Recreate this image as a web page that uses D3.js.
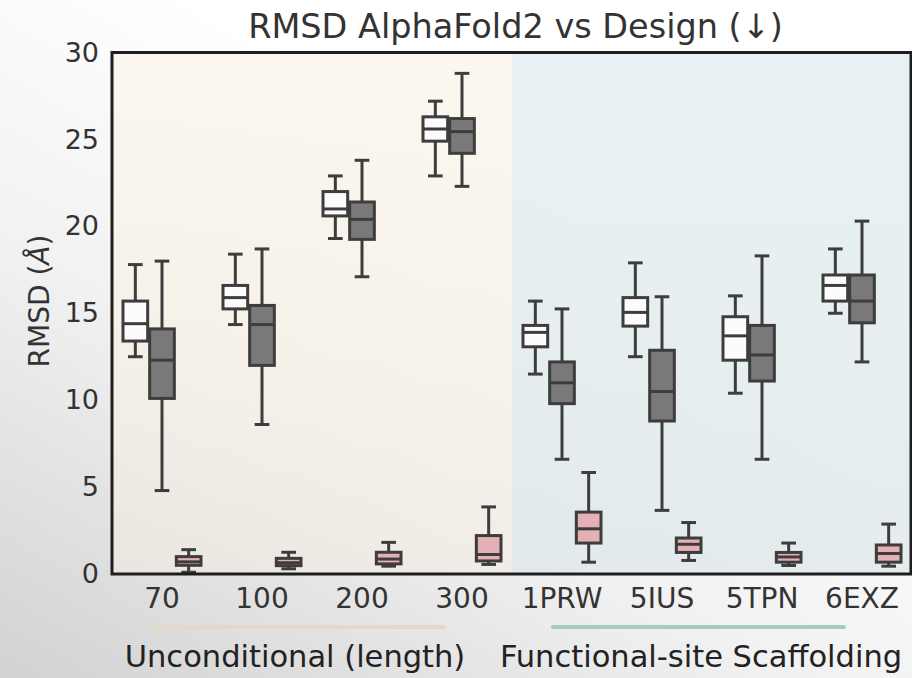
<!DOCTYPE html>
<html><head><meta charset="utf-8">
<script src="https://cdn.jsdelivr.net/npm/d3@7"></script>
<style>html,body{margin:0;padding:0;background:#fff;}svg{display:block;}</style>
</head><body><svg id="c" width="912" height="678"></svg>
<script>
// ---- data ----
const categories = ["70","100","200","300","1PRW","5IUS","5TPN","6EXZ"];
const series = ["whiteSeries","greySeries","pinkSeries"];
// each entry: [lower whisker, Q1, median, Q3, upper whisker]
const whiteSeries = [
  [12.5,13.4,14.4,15.7,17.8],[14.35,15.25,15.9,16.6,18.4],[19.3,20.6,21.0,22.0,22.9],[22.9,24.9,25.6,26.3,27.2],
  [11.5,13.07,13.9,14.3,15.7],[12.5,14.26,15.05,15.9,17.9],[10.4,12.3,13.7,14.8,16.0],[15.0,15.7,16.6,17.2,18.7]];
const greySeries = [
  [4.8,10.1,12.3,14.1,18.0],[8.6,12.0,14.35,15.45,18.7],[17.1,19.25,20.4,21.4,23.8],[22.3,24.2,25.45,26.2,28.8],
  [6.6,9.8,11.0,12.2,15.25],[3.66,8.8,10.5,12.87,15.95],[6.6,11.1,12.6,14.3,18.3],[12.2,14.45,15.7,17.2,20.3]];
const pinkSeries = [
  [0.1,0.5,0.7,1.0,1.4],[0.3,0.48,0.65,0.9,1.25],[0.45,0.58,0.86,1.25,1.82],[0.55,0.75,1.12,2.21,3.86],
  [0.68,1.78,2.6,3.56,5.84],[0.78,1.24,1.71,2.07,2.96],[0.49,0.68,0.98,1.24,1.78],[0.45,0.68,1.18,1.67,2.87]];
const yTicks = [0,5,10,15,20,25,30];
const groupLabels = ["Unconditional (length)","Functional-site Scaffolding"];
const groupMembers = [["70","100","200","300"],["1PRW","5IUS","5TPN","6EXZ"]];
const titleText = "RMSD AlphaFold2 vs Design (\u2193)";

const seriesData = {whiteSeries, greySeries, pinkSeries};
const fills = {whiteSeries:"#fcfcfc", greySeries:"#797979", pinkSeries:"#e4b0b6"};

// ---- layout ----
const L=112, R=911, T=52.5, B=574;
const svg = d3.select("#c");
const font = "'DejaVu Sans', sans-serif";
const defs = svg.append("defs");

const pg = defs.append("linearGradient").attr("id","pg").attr("x1",0).attr("y1",1).attr("x2",0.55).attr("y2",0.25);
pg.append("stop").attr("offset",0).attr("stop-color","#d2d2d2");
pg.append("stop").attr("offset",0.55).attr("stop-color","#f1f1f1");
pg.append("stop").attr("offset",1).attr("stop-color","#ffffff");
svg.append("rect").attr("width",912).attr("height",678).attr("fill","url(#pg)");

const x = d3.scaleBand().domain(categories).range([L, R+1]).padding(0);
const bw = x.bandwidth();
const xs = d3.scaleBand().domain(series).range([bw*0.1, bw*0.9]).padding(0);
const y = d3.scaleLinear().domain([0,30]).range([B, T]);

// panel backgrounds
const lg = defs.append("linearGradient").attr("id","lg").attr("x1",0).attr("y1",0).attr("x2",0).attr("y2",1);
lg.append("stop").attr("offset",0).attr("stop-color","#fbf7ee").attr("stop-opacity",0.95);
lg.append("stop").attr("offset",1).attr("stop-color","#f3ece0").attr("stop-opacity",0.55);
const rg = defs.append("linearGradient").attr("id","rg").attr("x1",0).attr("y1",0).attr("x2",0).attr("y2",1);
rg.append("stop").attr("offset",0).attr("stop-color","#e6f0f2").attr("stop-opacity",0.95);
rg.append("stop").attr("offset",1).attr("stop-color","#dde7ea").attr("stop-opacity",0.7);
const leftX0 = x(groupMembers[0][0]), leftX1 = x(groupMembers[0][3]) + bw;
const rightX0 = x(groupMembers[1][0]), rightX1 = x(groupMembers[1][3]) + bw;
svg.append("rect").attr("x",leftX0).attr("y",T).attr("width",leftX1-leftX0).attr("height",B-T).attr("fill","url(#lg)");
svg.append("rect").attr("x",rightX0).attr("y",T).attr("width",rightX1-rightX0).attr("height",B-T).attr("fill","url(#rg)");

// boxes
const ink = "#3d3d3d", sw = 3;
series.forEach(s => {
  const g = svg.append("g");
  const d = seriesData[s].map((v,i)=>({cat:categories[i], v}));
  const bx = dd => x(dd.cat) + xs(s);
  const w = xs.bandwidth();
  const cw = w*0.55;
  const items = g.selectAll("g").data(d).join("g");
  items.append("line").attr("x1",dd=>bx(dd)+w/2).attr("x2",dd=>bx(dd)+w/2)
    .attr("y1",dd=>y(dd.v[0])).attr("y2",dd=>y(dd.v[1])).attr("stroke",ink).attr("stroke-width",sw);
  items.append("line").attr("x1",dd=>bx(dd)+w/2).attr("x2",dd=>bx(dd)+w/2)
    .attr("y1",dd=>y(dd.v[3])).attr("y2",dd=>y(dd.v[4])).attr("stroke",ink).attr("stroke-width",sw);
  [0,4].forEach(k=>{
    items.append("line").attr("x1",dd=>bx(dd)+w/2-cw/2).attr("x2",dd=>bx(dd)+w/2+cw/2)
      .attr("y1",dd=>y(dd.v[k])).attr("y2",dd=>y(dd.v[k])).attr("stroke",ink).attr("stroke-width",sw);
  });
  items.append("rect").attr("x",dd=>bx(dd)+1).attr("width",w-2)
    .attr("y",dd=>y(dd.v[3])).attr("height",dd=>y(dd.v[1])-y(dd.v[3]))
    .attr("fill",fills[s]).attr("stroke",ink).attr("stroke-width",sw);
  items.append("line").attr("x1",dd=>bx(dd)+1).attr("x2",dd=>bx(dd)+w-1)
    .attr("y1",dd=>y(dd.v[2])).attr("y2",dd=>y(dd.v[2])).attr("stroke",ink).attr("stroke-width",sw);
});

// frame
svg.append("rect").attr("x",L).attr("y",T).attr("width",R-L).attr("height",B-T)
  .attr("fill","none").attr("stroke","#1e1e1e").attr("stroke-width",3);

// axes
const yAxis = d3.axisLeft(y).tickValues(yTicks).tickSize(0).tickPadding(13);
const ya = svg.append("g").attr("transform",`translate(${L},0)`).call(yAxis);
ya.select(".domain").remove();
ya.selectAll("text").attr("font-family",font).attr("font-size",27).attr("fill","#333");

const xAxis = d3.axisBottom(x).tickSize(0).tickPadding(14);
const xa = svg.append("g").attr("transform",`translate(0,${B})`).call(xAxis);
xa.select(".domain").remove();
xa.selectAll("text").attr("font-family",font).attr("font-size",28).attr("fill","#333");

// title
svg.append("text").attr("x",(L+R)/2+4).attr("y",38).attr("text-anchor","middle")
  .attr("font-family",font).attr("font-size",33.5).attr("fill","#333").text(titleText);

// y label
const yl = svg.append("text").attr("transform","translate(49,301) rotate(-90)").attr("text-anchor","middle")
  .attr("font-family",font).attr("font-size",28).attr("fill","#333");
yl.append("tspan").text("RMSD (");
yl.append("tspan").attr("font-style","italic").text("\u00c5");
yl.append("tspan").text(")");

// group underlines and labels
const lineColors = ["#e4d9c6","#a7cbc0"];
const labelShift = [-17, -11];
groupMembers.forEach((m,i)=>{
  const x0 = x(m[0]) + bw*0.41, x1 = x(m[m.length-1]) + bw*0.32;
  const cx = (x(m[0]) + x(m[m.length-1]) + bw)/2 + labelShift[i];
  svg.append("line").attr("x1",x0).attr("x2",x1).attr("y1",627).attr("y2",627)
    .attr("stroke",lineColors[i]).attr("stroke-width",4).attr("stroke-linecap","round");
  svg.append("text").attr("x",cx).attr("y",667).attr("text-anchor","middle")
    .attr("font-family",font).attr("font-size",30.5).attr("fill","#222").text(groupLabels[i]);
});
</script></body></html>
